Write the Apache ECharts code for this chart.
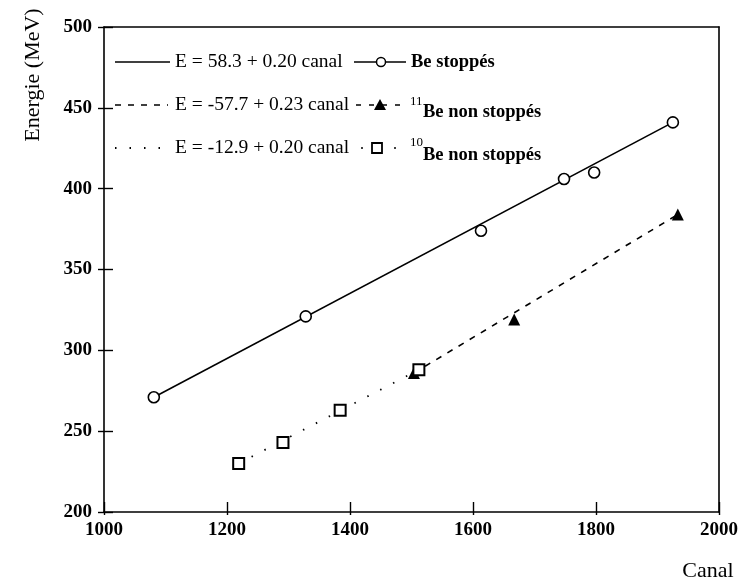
<!DOCTYPE html>
<html>
<head>
<meta charset="utf-8">
<script src="https://cdn.jsdelivr.net/npm/echarts@6/dist/echarts.min.js"></script>
<style>
  html, body { margin: 0; padding: 0; background: #fff; }
  #main { width: 748px; height: 588px; }
</style>
</head>
<body>
<div id="main"></div>
<script>
// Be stoppés (circles)
const canalStop = [1081, 1328, 1613, 1748, 1797, 1925];
const energyStop = [271, 321, 374, 406, 410, 441];
// 11Be non stoppés (triangles)
const canal11 = [1504, 1667, 1933];
const energy11 = [286, 319, 384];
// 10Be non stoppés (squares)
const canal10 = [1219, 1291, 1384, 1512];
const energy10 = [230, 243, 263, 288];
// fitted lines, end points
const fitStopX = [1081, 1925];
const fitStopY = [271, 441];
const fit11X = [1504, 1933];
const fit11Y = [286, 384];
const fit10X = [1219, 1512];
const fit10Y = [230, 288];
const xTicks = [1000, 1200, 1400, 1600, 1800, 2000];
const yTicks = [200, 250, 300, 350, 400, 450, 500];

const pairs = (xs, ys) => xs.map((x, i) => [x, ys[i]]);

window.onload = function () {
  const myChart = echarts.init(document.getElementById("main"));
  const serif = "Liberation Serif";

  const axisBase = (min, max, interval) => ({
    type: "value",
    min: min,
    max: max,
    interval: interval,
    splitLine: { show: false },
    axisLine: { show: true, onZero: false, lineStyle: { color: "#000", width: 1.6 } }
  });

  const xMain = Object.assign(axisBase(xTicks[0], xTicks[xTicks.length - 1], 200), {
    position: "bottom",
    axisTick: { show: true, inside: false, length: 3, lineStyle: { color: "#000", width: 1.4 } },
    axisLabel: { color: "#000", fontFamily: serif, fontWeight: "bold", fontSize: 19, margin: 9, formatter: v => String(v) }
  });
  const xInner = Object.assign(axisBase(xTicks[0], xTicks[xTicks.length - 1], 200), {
    position: "bottom",
    axisLine: { show: false, onZero: false },
    axisTick: { show: true, inside: true, length: 10, lineStyle: { color: "#000", width: 1.4 } },
    axisLabel: { show: false }
  });
  const xTop = Object.assign(axisBase(xTicks[0], xTicks[xTicks.length - 1], 200), {
    position: "top",
    axisTick: { show: false },
    axisLabel: { show: false }
  });

  const yMain = Object.assign(axisBase(yTicks[0], yTicks[yTicks.length - 1], 50), {
    position: "left",
    axisTick: { show: true, inside: false, length: 6, lineStyle: { color: "#000", width: 1.4 } },
    axisLabel: { color: "#000", fontFamily: serif, fontWeight: "bold", fontSize: 19, margin: 12, formatter: v => String(v) }
  });
  const yInner = Object.assign(axisBase(yTicks[0], yTicks[yTicks.length - 1], 50), {
    position: "left",
    axisLine: { show: false, onZero: false },
    axisTick: { show: true, inside: true, length: 9, lineStyle: { color: "#000", width: 1.4 } },
    axisLabel: { show: false }
  });
  const yRight = Object.assign(axisBase(yTicks[0], yTicks[yTicks.length - 1], 50), {
    position: "right",
    axisTick: { show: false },
    axisLabel: { show: false }
  });

  const eqFont = "19.5px " + serif;
  const lblFont = "bold 18.5px " + serif;
  const supFont = "13px " + serif;

  const options = {
    animation: false,
    backgroundColor: "#fff",
    grid: { left: 104, right: 29, top: 27, bottom: 76 },
    xAxis: [xMain, xInner, xTop],
    yAxis: [yMain, yInner, yRight],
    series: [
      {
        type: "line",
        data: pairs(fitStopX, fitStopY),
        symbol: "none",
        lineStyle: { color: "#000", width: 1.6, type: "solid" },
        z: 2
      },
      {
        type: "line",
        data: pairs(fit11X, fit11Y),
        symbol: "none",
        lineStyle: { color: "#000", width: 1.6, type: [6, 7] },
        z: 2
      },
      {
        type: "line",
        data: pairs(fit10X, fit10Y),
        symbol: "none",
        lineStyle: { color: "#000", width: 1.8, type: [1.5, 13] },
        z: 2
      },
      {
        name: "Be stoppés",
        type: "scatter",
        data: pairs(canalStop, energyStop),
        symbol: "circle",
        symbolSize: 11,
        itemStyle: { color: "#fff", borderColor: "#000", borderWidth: 1.6, opacity: 1 },
        z: 3
      },
      {
        name: "11Be non stoppés",
        type: "scatter",
        data: pairs(canal11, energy11),
        symbol: "triangle",
        symbolSize: 12,
        itemStyle: { color: "#000", opacity: 1 },
        z: 3
      },
      {
        name: "10Be non stoppés",
        type: "scatter",
        data: pairs(canal10, energy10),
        symbol: "rect",
        symbolSize: 11,
        itemStyle: { color: "#fff", borderColor: "#000", borderWidth: 2, opacity: 1 },
        z: 4
      }
    ],
    graphic: [
      // axis titles
      {
        type: "text", x: 33, y: 75, rotation: Math.PI / 2,
        style: { text: "Energie (MeV)", font: "22px " + serif, fill: "#000", textAlign: "center", textVerticalAlign: "middle" }
      },
      {
        type: "text", x: 708, y: 571,
        style: { text: "Canal", font: "22px " + serif, fill: "#000", textAlign: "center", textVerticalAlign: "middle" }
      },
      // legend row 1
      { type: "line", shape: { x1: 115, y1: 62, x2: 170, y2: 62 }, style: { stroke: "#000", lineWidth: 1.5 } },
      { type: "text", x: 175, y: 62, style: { text: "E = 58.3 + 0.20 canal", font: eqFont, fill: "#000", textVerticalAlign: "middle" } },
      { type: "line", shape: { x1: 354, y1: 62, x2: 406, y2: 62 }, style: { stroke: "#000", lineWidth: 1.5 } },
      { type: "circle", shape: { cx: 381, cy: 62, r: 4.5 }, style: { fill: "#fff", stroke: "#000", lineWidth: 1.5 } },
      { type: "text", x: 411, y: 62, style: { text: "Be stoppés", font: lblFont, fill: "#000", textVerticalAlign: "middle" } },
      // legend row 2
      { type: "line", shape: { x1: 115, y1: 105, x2: 168, y2: 105 }, style: { stroke: "#000", lineWidth: 1.5, lineDash: [6, 7] } },
      { type: "text", x: 175, y: 105, style: { text: "E = -57.7 + 0.23 canal", font: eqFont, fill: "#000", textVerticalAlign: "middle" } },
      { type: "line", shape: { x1: 356, y1: 105, x2: 404, y2: 105 }, style: { stroke: "#000", lineWidth: 1.5, lineDash: [5, 8] } },
      { type: "polygon", shape: { points: [[380, 99], [374, 110], [386, 110]] }, style: { fill: "#000" } },
      { type: "text", x: 410, y: 102, style: { text: "11", font: supFont, fill: "#000", textVerticalAlign: "middle" } },
      { type: "text", x: 423, y: 112, style: { text: "Be non stoppés", font: lblFont, fill: "#000", textVerticalAlign: "middle" } },
      // legend row 3
      { type: "line", shape: { x1: 115, y1: 148, x2: 168, y2: 148 }, style: { stroke: "#000", lineWidth: 1.8, lineDash: [1.5, 13] } },
      { type: "text", x: 175, y: 148, style: { text: "E = -12.9 + 0.20 canal", font: eqFont, fill: "#000", textVerticalAlign: "middle" } },
      { type: "circle", shape: { cx: 362, cy: 148, r: 1 }, style: { fill: "#000" } },
      { type: "circle", shape: { cx: 395, cy: 148, r: 1 }, style: { fill: "#000" } },
      { type: "rect", shape: { x: 372, y: 143, width: 10, height: 10 }, style: { fill: "#fff", stroke: "#000", lineWidth: 1.8 } },
      { type: "text", x: 410, y: 143, style: { text: "10", font: supFont, fill: "#000", textVerticalAlign: "middle" } },
      { type: "text", x: 423, y: 155, style: { text: "Be non stoppés", font: lblFont, fill: "#000", textVerticalAlign: "middle" } }
    ]
  };

  myChart.setOption(options);
};
</script>
</body>
</html>
